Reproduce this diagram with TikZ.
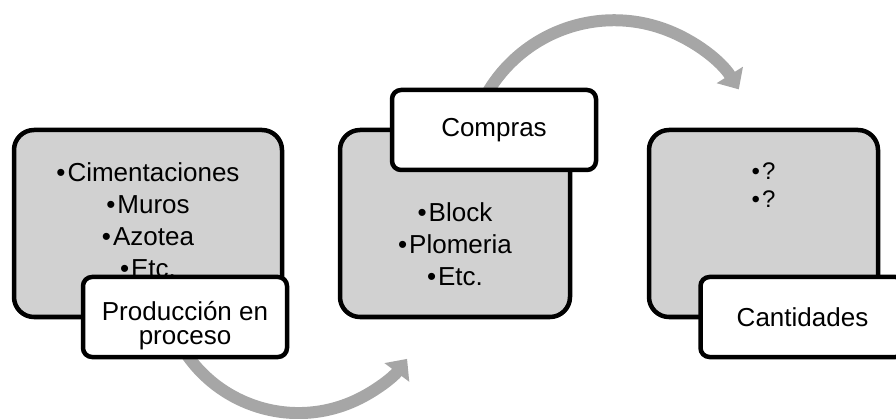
\documentclass[tikz,border=0pt]{standalone}
\usepackage{fontspec}
\setmainfont{Liberation Sans}
\usepackage{xcolor}
\usepackage{tikz}
\usetikzlibrary{arrows.meta, positioning, backgrounds}
\definecolor{cajagris}{RGB}{209, 209, 209}
\definecolor{flechagris}{RGB}{166, 166, 166}

\begin{document}
\begin{tikzpicture}[x=1pt, y=1pt,
  caja/.style={draw=black, fill=cajagris, line width=4.5pt, rounded corners=20pt,
               minimum height=187pt, inner sep=0pt, outer sep=0pt},
  etiqueta/.style={draw=black, fill=white, line width=4.5pt, rounded corners=9pt,
               minimum width=204pt, minimum height=80pt, inner sep=0pt, outer sep=0pt,
               align=center, font=\fontsize{26pt}{24pt}\selectfont},
  lista/.style={align=center, inner sep=0pt, outer sep=0pt,
               font=\fontsize{26pt}{32pt}\selectfont},
  flecha/.style={-{Triangle[length=17pt, width=30pt]}, line width=12pt, color=flechagris}
]
\useasboundingbox (0,0) rectangle (896,-419);
\clip (0,0) rectangle (896,-419);

% Cajas grises
\node[caja, minimum width=268pt] (caja1) at (148,-223.5) {};
\node[caja, minimum width=230pt, right=58pt of caja1] (caja2) {};
\node[caja, minimum width=229pt, right=79pt of caja2] (caja3) {};

% Listas
\node[lista, below=33pt of caja1.north] (lista1) {•\kern2pt Cimentaciones\\•\kern2pt Muros\\•\kern2pt Azotea\\•\kern2pt Etc.};
\node[lista, below=73pt of caja2.north] (lista2) {•\kern2pt Block\\•\kern2pt Plomeria\\•\kern2pt Etc.};
\node[lista, font=\fontsize{24pt}{28pt}\selectfont, below=33pt of caja3.north] (lista3) {•\kern2pt ?\\•\kern2pt ?};

% Etiquetas
\node[etiqueta] (etiq1) at ([xshift=37pt]caja1.south) {\rule{0pt}{36pt}Producción en\\proceso};
\node[etiqueta] (etiq2) at ([xshift=39pt]caja2.north) {Compras};
\node[etiqueta] (etiq3) at ([xshift=39pt]caja3.south) {Cantidades};

% Flechas
\begin{scope}[on background layer]
\draw[flecha] ([shift={(-9.8pt,-17.5pt)}]etiq1.center) arc[start angle=205, end angle=323, radius=136pt];
\draw[flecha] ([shift={(-18pt,-27pt)}]etiq2.north) arc[start angle=160, end angle=32, radius=147pt];
\end{scope}

\end{tikzpicture}
\end{document}
